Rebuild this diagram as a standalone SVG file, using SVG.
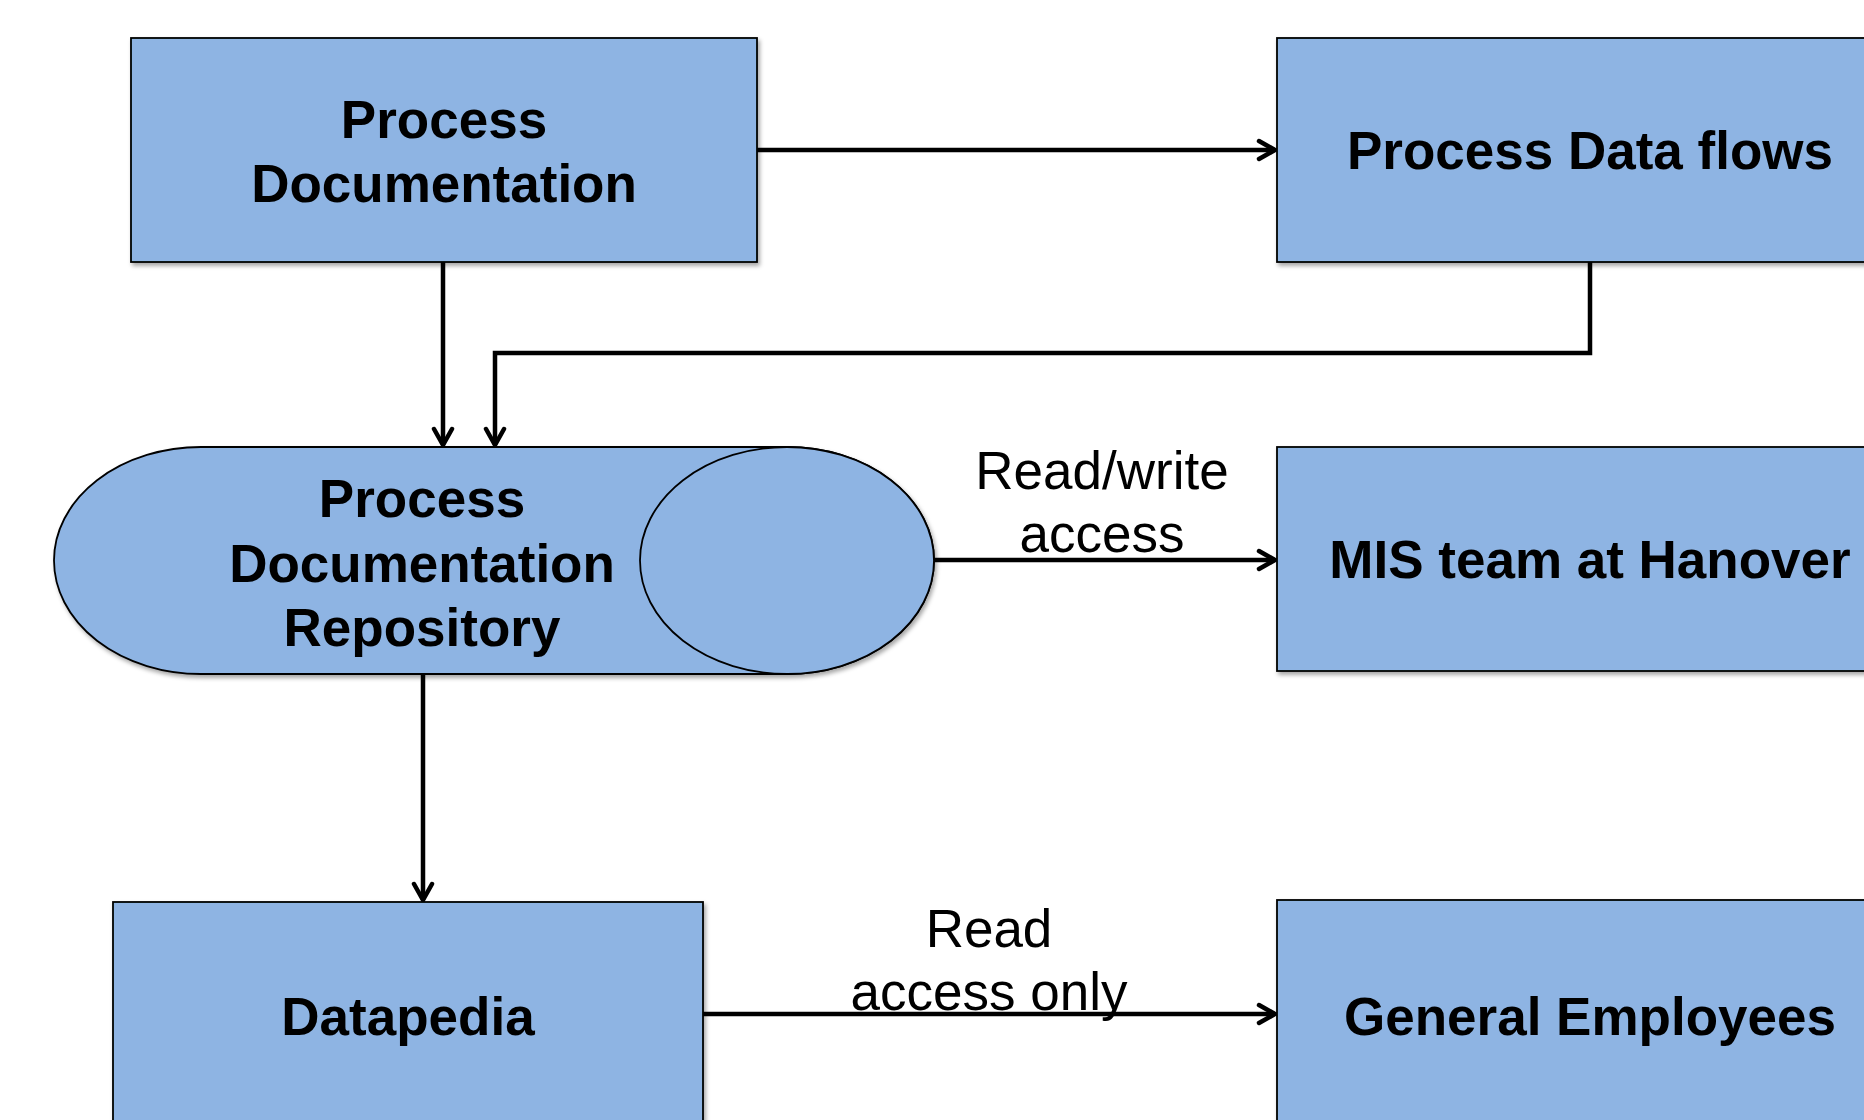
<svg xmlns="http://www.w3.org/2000/svg" width="1864" height="1120" viewBox="0 0 1864 1120">
<defs>
<filter id="sh" x="-5%" y="-5%" width="110%" height="115%">
<feDropShadow dx="2" dy="3" stdDeviation="2" flood-color="#000" flood-opacity="0.35"/>
</filter>
<marker id="arr" markerUnits="userSpaceOnUse" markerWidth="26" markerHeight="26" viewBox="0 0 26 26" refX="22" refY="13" orient="auto">
<path d="M6,4 L22,13 L6,22" fill="none" stroke="#000" stroke-width="4.5" stroke-linecap="round" stroke-linejoin="miter"/>
</marker>
</defs>
<style>
.node{fill:#8EB4E3;stroke:#000;stroke-width:1.8;filter:url(#sh)}
.nt{font-family:"Liberation Sans",Arial,sans-serif;font-weight:bold;font-size:53px;fill:#000;text-anchor:middle}
.lt{font-family:"Liberation Sans",Arial,sans-serif;font-size:53px;fill:#000;text-anchor:middle}
.c{fill:none;stroke:#000;stroke-width:4.5;marker-end:url(#arr)}
</style>
<rect width="1864" height="1120" fill="#fff"/>
<g id="connectors">
<path class="c" d="M757,150 H1275"/>
<path class="c" d="M443,262 V445"/>
<path class="c" d="M1590,262 V353 H495 V445"/>
<path class="c" d="M934,560 H1275"/>
<path class="c" d="M423,674 V900"/>
<path class="c" d="M703,1014 H1275"/>
</g>
<g id="process-documentation">
<rect class="node" x="131" y="38" width="626" height="224"/>
<text class="nt" x="444" y="138">Process</text>
<text class="nt" x="444" y="202">Documentation</text>
</g>
<g id="process-data-flows">
<rect class="node" x="1277" y="38" width="640" height="224"/>
<text class="nt" x="1590" y="169">Process Data flows</text>
</g>
<g id="repository">
<path class="node" d="M201,447 L787,447 A147,113.5 0 0 1 787,674 L201,674 A147,113.5 0 0 1 201,447 Z"/>
<ellipse cx="787" cy="560.5" rx="147" ry="113.5" fill="#8EB4E3" stroke="#000" stroke-width="1.8"/>
<text class="nt" x="422" y="517">Process</text>
<text class="nt" x="422" y="582">Documentation</text>
<text class="nt" x="422" y="646">Repository</text>
</g>
<g id="mis-team">
<rect class="node" x="1277" y="447" width="640" height="224"/>
<text class="nt" x="1590" y="578">MIS team at Hanover</text>
</g>
<g id="datapedia">
<rect class="node" x="113" y="902" width="590" height="260"/>
<text class="nt" x="408" y="1035">Datapedia</text>
</g>
<g id="general-employees">
<rect class="node" x="1277" y="900" width="640" height="260"/>
<text class="nt" x="1590" y="1035">General Employees</text>
</g>
<g id="labels">
<text class="lt" x="1102" y="489">Read/write</text>
<text class="lt" x="1102" y="552">access</text>
<text class="lt" x="989" y="947">Read</text>
<text class="lt" x="989" y="1010">access only</text>
</g>
</svg>
